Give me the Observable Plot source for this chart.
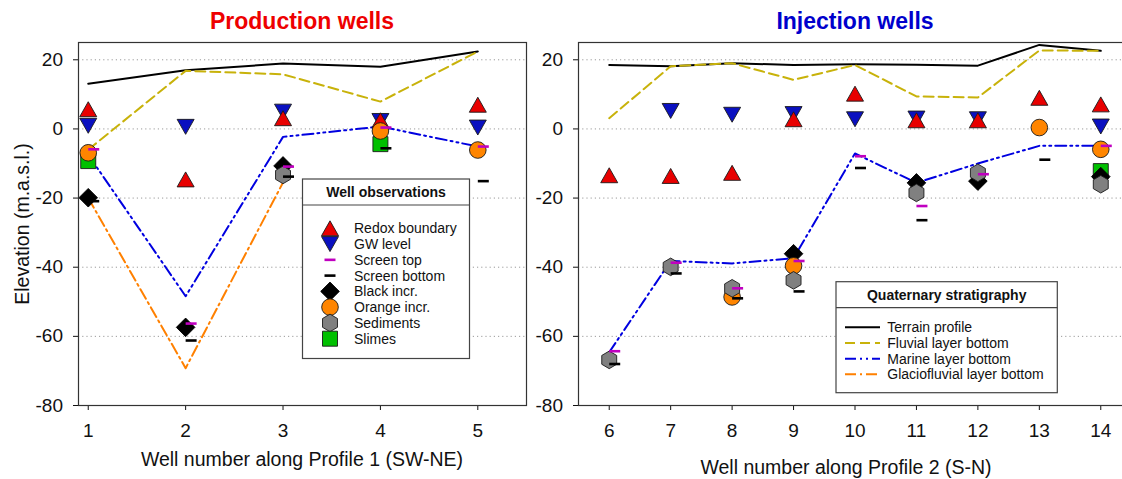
<!DOCTYPE html>
<html><head><meta charset="utf-8">
<script src="https://cdn.jsdelivr.net/npm/d3@7"></script>
<script src="https://cdn.jsdelivr.net/npm/@observablehq/plot@0.6"></script>
<style>
html,body{margin:0;padding:0;background:#fff;}
#wrap{position:relative;width:1122px;height:479px;overflow:hidden;font-family:"Liberation Sans",Arial,sans-serif;}
#wrap > svg{position:absolute;top:0;}
</style></head><body><div id="wrap"></div>
<script>
// ---------- Data ----------
const yTicks = [-80, -60, -40, -20, 0, 20];

// Profile 1: production wells
const prodWells = [1, 2, 3, 4, 5];
const prodTerrain = [13.1, 17.0, 18.9, 18.0, 22.4];
const prodFluvial = [-6.0, 16.8, 15.8, 7.9, 22.4];
const prodMarine = [-7.5, -48.4, -2.3, 0.7, -5.1];
const prodGlacio = [-20.0, -69.2, -15.5, null, null];
const prodRedox = [5.7, -14.6, 3.1, 2.5, 7.0];
const prodGW = [0.9, 0.6, 5.0, 2.3, 0.4];
const prodScreenTop = [-5.9, -56.3, -10.9, 0.4, -5.1];
const prodScreenBottom = [-20.9, -61.2, -13.8, -5.6, -15.1];
const prodBlack = [-19.9, -57.4, -10.7, null, null];
const prodOrange = [-6.9, null, null, -0.6, -6.1];
const prodSediments = [null, null, -13.3, null, null];
const prodSlimes = [-9.3, null, null, -4.4, null];

// Profile 2: injection wells
const injWells = [6, 7, 8, 9, 10, 11, 12, 13, 14];
const injTerrain = [18.5, 18.1, 19.0, 18.5, 18.7, 18.6, 18.3, 24.3, 22.6];
const injFluvial = [3.1, 18.1, 19.0, 14.2, 18.5, 9.4, 9.1, 22.7, 22.6];
const injMarine = [-64.6, -38.2, -38.9, -37.4, -7.1, -15.6, -10.0, -4.9, -4.9];
const injRedox = [-13.4, -13.6, -12.7, 2.8, 10.2, 2.5, 2.5, 9.0, 7.1];
const injGW = [null, 5.2, 4.1, 4.3, 2.8, 3.0, 2.8, null, 0.7];
const injScreenTop = [-64.3, -38.7, -46.1, -38.2, -7.9, -22.3, -13.1, null, -4.9];
const injScreenBottom = [-68.0, -41.8, -49.0, -47.0, -11.3, -26.4, null, -8.9, null];
const injBlack = [null, null, null, -36.1, null, -15.6, -15.1, null, -13.8];
const injOrange = [null, null, -48.6, -39.6, null, null, null, 0.4, -5.9];
const injSediments = [-66.8, -39.9, -46.1, -43.8, null, -18.5, -12.7, null, -16.0];
const injSlimes = [null, null, null, null, null, null, null, null, -12.2];

// ---------- Styles ----------
const FONT = "'Liberation Sans', Arial, sans-serif";
const C = {
  redox: "#e80000", gw: "#0a10c0", top: "#c000c0", bottom: "#000",
  black: "#000", orange: "#ff8500", sed: "#808080", slime: "#00c000",
  terrain: "#000", fluvial: "#c8b20a", marine: "#0000e0", glacio: "#ff8000"
};
const DASH = {terrain: null, fluvial: "10,5", marine: "11,4,2,4,2,4", glacio: "11,4,2,4"};

// custom symbols (r = sqrt(size/pi))
const R = s => Math.sqrt(s / Math.PI);
const triUp = {draw(c, s){const r=R(s), h=r*0.88; c.moveTo(0,-h); c.lineTo(r,h); c.lineTo(-r,h); c.closePath();}};
const triDown = {draw(c, s){const r=R(s), h=r*0.88; c.moveTo(0,h); c.lineTo(r,-h); c.lineTo(-r,-h); c.closePath();}};
const diamond = {draw(c, s){const r=R(s); c.moveTo(0,-r); c.lineTo(r,0); c.lineTo(0,r); c.lineTo(-r,0); c.closePath();}};
const hexagon = {draw(c, s){const r=R(s); for(let i=0;i<6;i++){const a=(-90+60*i)*Math.PI/180; const x=r*Math.cos(a)*0.98, y=r*Math.sin(a); i?c.lineTo(x,y):c.moveTo(x,y);} c.closePath();}};
const square = {draw(c, s){const r=R(s); c.rect(-r,-r,2*r,2*r);}};
const circle = {draw(c, s){const r=R(s); c.moveTo(r,0); c.arc(0,0,r,0,2*Math.PI); c.closePath();}};
const dash = {draw(c, s){c.rect(0,-1.3,11,2.6);}};

const pts = (wells, vals) => wells.map((w, i) => ({well: w, value: vals[i]})).filter(d => d.value != null);

function lineMark(wells, vals, key) {
  return Plot.line(pts(wells, vals), {x: "well", y: "value", stroke: C[key], strokeWidth: 2,
    strokeDasharray: DASH[key]});
}
function dotMark(wells, vals, symbol, fill, r, stroke) {
  return Plot.dot(pts(wells, vals), {x: "well", y: "value", symbol, fill, r,
    stroke: stroke === undefined ? "#1a1a1a" : stroke, strokeWidth: 0.9});
}

function panel(o) {
  const W = o.wells;
  return Plot.plot({
    width: o.width, height: 479,
    marginLeft: o.ml, marginRight: o.mr, marginTop: 42, marginBottom: 74,
    x: {domain: o.xDomain},
    y: {domain: [-80, 25]},
    style: {fontFamily: FONT, fontSize: "19px", color: "#111", background: "transparent", overflow: "visible"},
    marks: [
      Plot.gridY(yTicks.filter(t => t > -80), {stroke: "#9a9a9a", strokeOpacity: 1, strokeDasharray: "1.2,3"}),
      Plot.axisY(yTicks, {tickSize: 5, tickPadding: 10.5, label: null, tickFormat: d => String(d), fontSize: 19}),
      Plot.axisX(W, {tickSize: 5, tickPadding: 13, label: null, tickFormat: d => String(d), fontSize: 19}),
      lineMark(W, o.terrain, "terrain"),
      lineMark(W, o.fluvial, "fluvial"),
      lineMark(W, o.marine, "marine"),
      o.glacio ? lineMark(W, o.glacio, "glacio") : null,
      dotMark(W, o.gw, triDown, C.gw, 8.5),
      dotMark(W, o.redox, triUp, C.redox, 8.5),
      dotMark(W, o.slimes, square, C.slime, 7.5),
      dotMark(W, o.black, diamond, C.black, 9.3, "#000"),
      dotMark(W, o.orange, circle, C.orange, 8.3),
      dotMark(W, o.sediments, hexagon, C.sed, 8.8),
      dotMark(W, o.screenTop, dash, C.top, 3, "none"),
      dotMark(W, o.screenBottom, dash, C.bottom, 3, "none"),
      Plot.frame({stroke: "#333", strokeWidth: 1.2})
    ]
  });
}

const wrap = document.getElementById("wrap");

const left = panel({
  wells: prodWells, width: 540, ml: 78, mr: 14, xDomain: [0.9, 5.5],
  terrain: prodTerrain, fluvial: prodFluvial, marine: prodMarine, glacio: prodGlacio,
  redox: prodRedox, gw: prodGW, screenTop: prodScreenTop, screenBottom: prodScreenBottom,
  black: prodBlack, orange: prodOrange, sediments: prodSediments, slimes: prodSlimes
});
left.style.left = "0px";
wrap.appendChild(left);

const right = panel({
  wells: injWells, width: 610, ml: 48, mr: 9, xDomain: [5.5, 14.5],
  terrain: injTerrain, fluvial: injFluvial, marine: injMarine, glacio: null,
  redox: injRedox, gw: injGW, screenTop: injScreenTop, screenBottom: injScreenBottom,
  black: injBlack, orange: injOrange, sediments: injSediments, slimes: injSlimes
});
right.style.left = "530px";
wrap.appendChild(right);

// ---------- Overlay: titles, axis labels, legends ----------
const ov = d3.select(wrap).append("svg")
  .attr("width", 1122).attr("height", 479)
  .style("position", "absolute").style("left", "0px").style("top", "0px")
  .style("font-family", FONT);

ov.append("text").attr("x", 302).attr("y", 21).attr("text-anchor", "middle").attr("dominant-baseline", "central")
  .attr("font-size", 23).attr("font-weight", "bold").attr("fill", "#ee0000").text("Production wells");
ov.append("text").attr("x", 855).attr("y", 21).attr("text-anchor", "middle").attr("dominant-baseline", "central")
  .attr("font-size", 23).attr("font-weight", "bold").attr("fill", "#0000cc").text("Injection wells");

ov.append("text").attr("transform", "translate(22,224) rotate(-90)").attr("text-anchor", "middle")
  .attr("dominant-baseline", "central").attr("font-size", 19.5).attr("fill", "#111").text("Elevation (m.a.s.l.)");
ov.append("text").attr("x", 302).attr("y", 459).attr("text-anchor", "middle").attr("dominant-baseline", "central")
  .attr("font-size", 19.5).attr("fill", "#111").text("Well number along Profile 1 (SW-NE)");
ov.append("text").attr("x", 846).attr("y", 467).attr("text-anchor", "middle").attr("dominant-baseline", "central")
  .attr("font-size", 19.5).attr("fill", "#111").text("Well number along Profile 2 (S-N)");

// Legend 1: well observations
const obsLegend = [
  {label: "Redox boundary", sym: triUp, fill: C.redox, r: 8.5, stroke: "#1a1a1a"},
  {label: "GW level", sym: triDown, fill: C.gw, r: 8.5, stroke: "#1a1a1a"},
  {label: "Screen top", sym: dash, fill: C.top, r: 3, stroke: "none", dx: -5.5},
  {label: "Screen bottom", sym: dash, fill: C.bottom, r: 3, stroke: "none", dx: -5.5},
  {label: "Black incr.", sym: diamond, fill: C.black, r: 9.3, stroke: "#000"},
  {label: "Orange incr.", sym: circle, fill: C.orange, r: 8.3, stroke: "#1a1a1a"},
  {label: "Sediments", sym: hexagon, fill: C.sed, r: 8.8, stroke: "#1a1a1a"},
  {label: "Slimes", sym: square, fill: C.slime, r: 7.5, stroke: "#1a1a1a"}
];
const L1 = ov.append("g");
L1.append("rect").attr("x", 302.5).attr("y", 179).attr("width", 167).attr("height", 179.5)
  .attr("fill", "#fff").attr("stroke", "#444").attr("stroke-width", 1.2);
L1.append("line").attr("x1", 302.5).attr("x2", 469.5).attr("y1", 205).attr("y2", 205).attr("stroke", "#444").attr("stroke-width", 1.2);
L1.append("text").attr("x", 386).attr("y", 192).attr("text-anchor", "middle").attr("dominant-baseline", "central")
  .attr("font-size", 14).attr("font-weight", "bold").attr("fill", "#111").text("Well observations");
obsLegend.forEach((d, i) => {
  const y = 228.3 + i * 15.77;
  L1.append("path").attr("d", d3.symbol().type(d.sym).size(Math.PI * d.r * d.r)())
    .attr("transform", `translate(${330 + (d.dx || 0)},${y})`)
    .attr("fill", d.fill).attr("stroke", d.stroke).attr("stroke-width", 0.9);
  L1.append("text").attr("x", 354).attr("y", y).attr("dominant-baseline", "central")
    .attr("font-size", 14).attr("fill", "#111").text(d.label);
});

// Legend 2: Quaternary stratigraphy
const stratLegend = [
  {label: "Terrain profile", key: "terrain"},
  {label: "Fluvial layer bottom", key: "fluvial"},
  {label: "Marine layer bottom", key: "marine"},
  {label: "Glaciofluvial layer bottom", key: "glacio"}
];
const L2 = ov.append("g");
L2.append("rect").attr("x", 836).attr("y", 281.7).attr("width", 221.3).attr("height", 111)
  .attr("fill", "#fff").attr("stroke", "#444").attr("stroke-width", 1.2);
L2.append("line").attr("x1", 836).attr("x2", 1057.3).attr("y1", 307.7).attr("y2", 307.7).attr("stroke", "#444").attr("stroke-width", 1.2);
L2.append("text").attr("x", 946.7).attr("y", 295).attr("text-anchor", "middle").attr("dominant-baseline", "central")
  .attr("font-size", 14).attr("font-weight", "bold").attr("fill", "#111").text("Quaternary stratigraphy");
stratLegend.forEach((d, i) => {
  const y = 327.3 + i * 15.67;
  L2.append("line").attr("x1", 845).attr("x2", 880).attr("y1", y).attr("y2", y)
    .attr("stroke", C[d.key]).attr("stroke-width", 2).attr("stroke-dasharray", DASH[d.key]);
  L2.append("text").attr("x", 887.3).attr("y", y).attr("dominant-baseline", "central")
    .attr("font-size", 14).attr("fill", "#111").text(d.label);
});
</script>
</body></html>
